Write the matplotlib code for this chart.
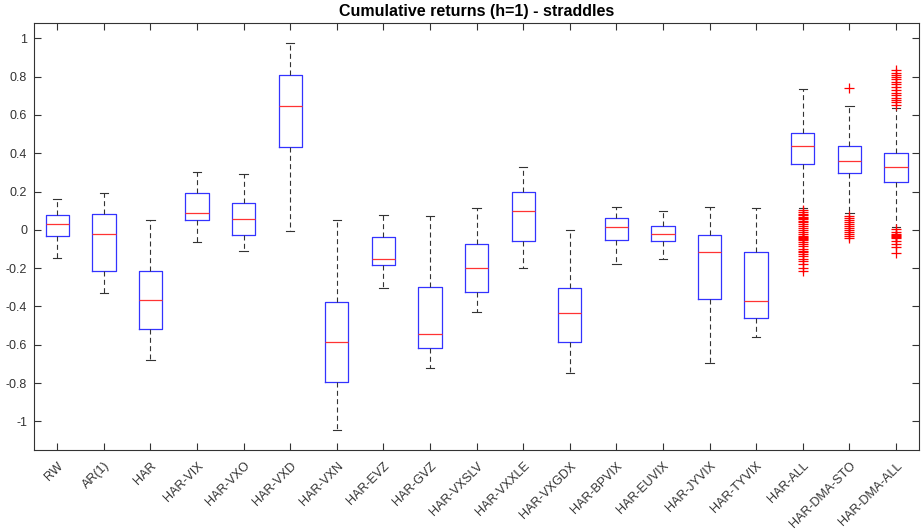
import matplotlib.pyplot as plt

models = [
    "RW", "AR(1)", "HAR", "HAR-VIX", "HAR-VXO", "HAR-VXD", "HAR-VXN",
    "HAR-EVZ", "HAR-GVZ", "HAR-VXSLV", "HAR-VXXLE", "HAR-VXGDX",
    "HAR-BPVIX", "HAR-EUVIX", "HAR-JYVIX", "HAR-TYVIX", "HAR-ALL",
    "HAR-DMA-STO", "HAR-DMA-ALL",
]
whisker_low = [-0.145, -0.33, -0.68, -0.065, -0.11, -0.005, -1.045, -0.305, -0.72,
               -0.43, -0.20, -0.747, -0.179, -0.151, -0.698, -0.559, 0.114, 0.087, 0.014]
q1 = [-0.03, -0.215, -0.52, 0.05, -0.025, 0.43, -0.795, -0.185, -0.615,
      -0.325, -0.056, -0.587, -0.052, -0.056, -0.361, -0.46, 0.344, 0.295, 0.248]
median = [0.03, -0.02, -0.365, 0.09, 0.055, 0.645, -0.585, -0.15, -0.545,
          -0.20, 0.10, -0.434, 0.017, -0.022, -0.116, -0.373, 0.4375, 0.361, 0.33]
q3 = [0.075, 0.08, -0.215, 0.19, 0.14, 0.81, -0.375, -0.04, -0.30,
      -0.073, 0.20, -0.305, 0.061, 0.021, -0.028, -0.118, 0.503, 0.439, 0.403]
whisker_high = [0.16, 0.19, 0.05, 0.30, 0.29, 0.975, 0.05, 0.075, 0.07,
                0.113, 0.33, 0.0, 0.121, 0.10, 0.118, 0.113, 0.733, 0.646, 0.634]

outliers_har_all = [0.105, 0.095, 0.085, 0.075, 0.065, 0.06, 0.055, 0.045, 0.04, 0.03,
                    0.02, 0.01, 0.0, -0.01, -0.02, -0.03, -0.035, -0.045, -0.05, -0.055,
                    -0.065, -0.075, -0.085, -0.1, -0.11, -0.115, -0.125, -0.135, -0.15,
                    -0.165, -0.18, -0.2, -0.217]
outliers_dma_sto = [0.738, 0.07, 0.06, 0.05, 0.04, 0.03, 0.02, 0.01, 0.0, -0.01,
                    -0.02, -0.03, -0.043]
outliers_dma_all = [0.833, 0.82, 0.81, 0.8, 0.79, 0.77, 0.76, 0.745, 0.73, 0.715, 0.705,
                    0.69, 0.68, 0.665, 0.651, 0.005, -0.01, -0.02, -0.025, -0.03, -0.035,
                    -0.045, -0.06, -0.075, -0.09, -0.12]
fliers = [[]] * 16 + [outliers_har_all, outliers_dma_sto, outliers_dma_all]

ytick_values = [-1, -0.8, -0.6, -0.4, -0.2, 0, 0.2, 0.4, 0.6, 0.8, 1]
ytick_labels = ["-1", "-0.8", "-0.6", "-0.4", "-0.2", "0", "0.2", "0.4", "0.6", "0.8", "1"]

stats = []
for i, name in enumerate(models):
    stats.append(dict(label=name, whislo=whisker_low[i], q1=q1[i], med=median[i],
                      q3=q3[i], whishi=whisker_high[i], fliers=fliers[i]))

plt.rcParams["font.family"] = ["Liberation Sans", "DejaVu Sans"]
fig = plt.figure(figsize=(9.24, 5.29), dpi=100)
ax = fig.add_axes([0.0368, 0.1493, 0.958, 0.8072])

ax.bxp(
    stats,
    widths=0.5,
    capwidths=0.18,
    boxprops=dict(color="#3333ff", linewidth=0.9),
    medianprops=dict(color="#ff3333", linewidth=0.9),
    whiskerprops=dict(color="#333333", linewidth=0.8, linestyle=(0, (4.5, 3))),
    capprops=dict(color="#333333", linewidth=0.8),
    flierprops=dict(marker="+", markeredgecolor="#ff0000", markersize=7, markeredgewidth=0.9),
)

ax.set_xlim(0.5, len(models) + 0.5)
ax.set_ylim(-1.15, 1.08)
ax.set_yticks(ytick_values)
ax.set_yticklabels(ytick_labels)
ax.set_xticklabels(models, rotation=45, ha="right", rotation_mode="anchor")
ax.tick_params(direction="in", top=True, right=True, length=5, width=0.8,
               colors="#333333", labelsize=9, pad=5)
ax.tick_params(axis="x", pad=7)
for spine in ax.spines.values():
    spine.set_color("#333333")
    spine.set_linewidth(0.8)
ax.set_title("Cumulative returns (h=1) - straddles", fontsize=11.5, fontweight="bold", pad=5)

fig.savefig("out.png", dpi=100)
